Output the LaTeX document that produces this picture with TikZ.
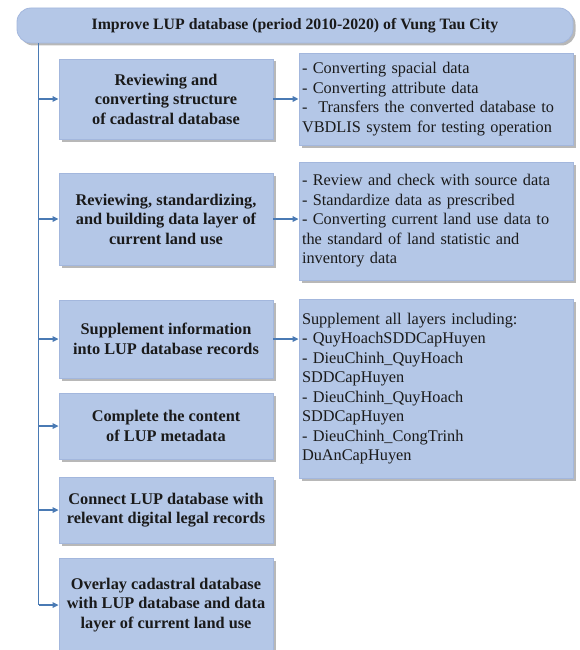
\documentclass[tikz,border=0pt]{standalone}
\usepackage{fontspec}
\setmainfont{Liberation Serif}
\usetikzlibrary{arrows.meta,shadows}

\definecolor{boxfill}{HTML}{B4C7E7}
\definecolor{boxedge}{HTML}{A3B7DD}
\definecolor{linkblue}{HTML}{4A7AB4}
\definecolor{inkdark}{HTML}{1A1A1A}

\tikzset{
  card/.style={draw=boxedge, line width=0.8pt, fill=boxfill,
    drop shadow={shadow xshift=2.5pt, shadow yshift=-2.5pt, fill=black, opacity=0.28},
    text=inkdark, inner sep=0pt},
  headbox/.style={card, rounded corners=14pt, minimum width=556pt, minimum height=35pt,
    font=\fontsize{15.8}{18}\selectfont\bfseries},
  taskbox/.style={card, minimum width=214pt, align=center,
    font=\fontsize{16.3}{19.5}\selectfont\bfseries},
  notebox/.style={card, minimum width=274pt, text width=268pt, align=left,
    font=\fontsize{16.3}{19.5}\selectfont},
  trunk/.style={draw=linkblue, line width=1.3pt},
  link/.style={trunk, -{Triangle[length=6pt,width=5.5pt]}},
}

\begin{document}
\begin{tikzpicture}[x=1pt, y=-1pt]
  \useasboundingbox (0,0) rectangle (580,650);
  \clip (0,0) rectangle (580,650);

  % heading
  \node[headbox] (title) at (295,25.5) {Improve LUP database (period 2010-2020) of Vung Tau City};

  % tasks on the left
  \node[taskbox, minimum height=80pt] (b1) at (166,99)
    {Reviewing and\\converting structure\\of cadastral database};
  \node[taskbox, minimum height=92pt] (b2) at (166,219)
    {Reviewing, standardizing,\\and building data layer of\\current land use};
  \node[taskbox, minimum height=78pt] (b3) at (166,339)
    {Supplement information\\into LUP database records};
  \node[taskbox, minimum height=66pt] (b4) at (166,426)
    {Complete the content\\of LUP metadata};
  \node[taskbox, minimum height=66pt] (b5) at (166,510)
    {Connect LUP database with\\relevant digital legal records};
  \node[taskbox, minimum height=94pt] (b6) at (166,605)
    {Overlay cadastral database\\with LUP database and data\\layer of current land use};

  % details on the right
  \node[notebox, minimum height=92pt] (r1) at (436,99)
    {- Converting spacial data\\
     - Converting attribute data\\
     \makebox[\linewidth][s]{- \ Transfers the converted database to}\\
     VBDLIS system for testing operation};
  \node[notebox, minimum height=118pt] (r2) at (436,221)
    {- Review and check with source data\\
     - Standardize data as prescribed\\
     - Converting current land use data to\\
     the standard of land statistic and\\
     inventory data};
  \node[notebox, minimum height=179pt] (r3) at (436,388.5)
    {Supplement all layers including:\\
     - QuyHoachSDDCapHuyen\\
     - DieuChinh\_QuyHoach\\
     SDDCapHuyen\\
     - DieuChinh\_QuyHoach\\
     SDDCapHuyen\\
     - DieuChinh\_CongTrinh\\
     DuAnCapHuyen};

  % connectors
  \coordinate (spine) at ([xshift=22pt]title.south west);
  \draw[trunk] (spine) -- (spine |- b6.west);
  \foreach \b in {b1,b2,b3,b4,b5,b6}
    \draw[link] (spine |- \b.west) -- (\b.west);
  \draw[link] (b1.east) -- (b1.east -| r1.west);
  \draw[link] (b2.east) -- (b2.east -| r2.west);
  \draw[link] (b3.east) -- (b3.east -| r3.west);
\end{tikzpicture}
\end{document}
